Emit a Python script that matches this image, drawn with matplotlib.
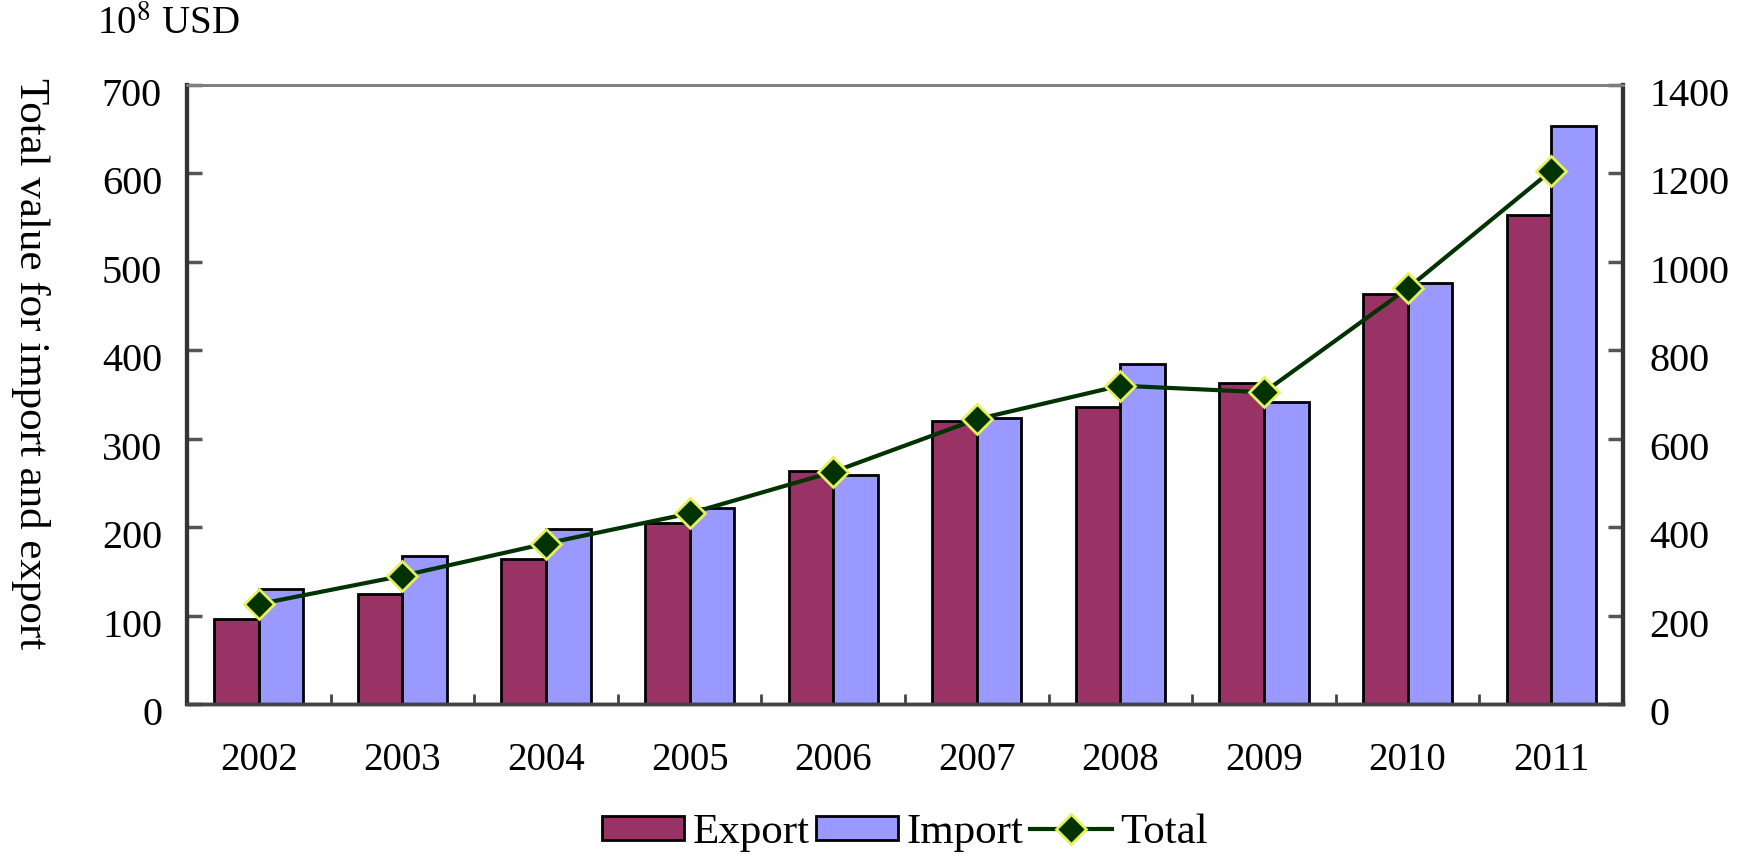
import numpy as np
import matplotlib
matplotlib.use("Agg")
import matplotlib.pyplot as plt
import matplotlib.transforms as mtransforms

plt.rcParams['font.family'] = ['Liberation Serif', 'DejaVu Serif']
plt.rcParams['mathtext.fontset'] = 'stix'

# data (10^8 USD)
years = ["2002", "2003", "2004", "2005", "2006", "2007", "2008", "2009", "2010", "2011"]
export = [96, 124, 164, 205, 264, 320, 336, 363, 464, 553]
imports = [130, 167, 198, 222, 259, 323, 384, 341, 476, 654]
total = [226, 290, 363, 431, 525, 644, 720, 705, 940, 1206]

fig = plt.figure(figsize=(17.54, 8.59), dpi=100)
fig.patch.set_facecolor("white")
ax = fig.add_axes([187 / 1754, 1 - 704 / 859, (1623 - 187) / 1754, (704 - 85) / 859])
ax2 = ax.twinx()

x = np.arange(len(years))
w = 0.31
b1 = ax.bar(x - w / 2, export, w, color="#993366", edgecolor="black", linewidth=2, label="Export")
b2 = ax.bar(x + w / 2, imports, w, color="#9999FF", edgecolor="black", linewidth=2, label="Import")
l1, = ax2.plot(x, total, color="#003300", linewidth=3, marker="D", markersize=15,
               markerfacecolor="#003300", markeredgecolor="#E6F05A", markeredgewidth=2,
               label="Total")

ax.set_xlim(-0.5, len(years) - 0.5)
ax.set_ylim(0, 700)
ax2.set_ylim(0, 1400)
ax.set_yticks(np.arange(0, 701, 100))
ax2.set_yticks(np.arange(0, 1401, 200))

ax.set_xticks(x)
ax.set_xticklabels(years)
ax.set_xticks(np.arange(0.5, len(years) - 1, 1), minor=True)
ax.tick_params(axis="x", which="major", length=0, pad=27, labelsize=28)
ax.tick_params(axis="x", which="minor", direction="in", length=7, width=2, color="#444444")
ax.tick_params(axis="y", direction="in", length=11, width=2.5, color="#555555", pad=18, labelsize=29)
ax2.tick_params(axis="y", direction="in", length=11, width=2.5, color="#555555", pad=19, labelsize=29)

# labels sit slightly below their ticks in the original
off = mtransforms.ScaledTranslation(0, -0.07, fig.dpi_scale_trans)
for lab in ax.get_yticklabels() + ax2.get_yticklabels():
    lab.set_transform(lab.get_transform() + off)

for a in (ax, ax2):
    a.spines["left"].set_color("#333333")
    a.spines["left"].set_linewidth(3)
    a.spines["right"].set_color("#333333")
    a.spines["right"].set_linewidth(3)
    a.spines["bottom"].set_color("#444444")
    a.spines["bottom"].set_linewidth(2.5)
    a.spines["top"].set_color("#808080")
    a.spines["top"].set_linewidth(2)

fig.text(30 / 1754, 1 - 364 / 859, "Total value for import and export", rotation=270,
         ha="center", va="center", fontsize=31)
fig.text(97 / 1754, 1 - 24 / 859, r"10$^{8}$ USD", ha="left", va="center", fontsize=28)

fig.legend([b1, b2, l1], ["Export", "Import", "Total"], loc="center",
           bbox_to_anchor=(905 / 1754, 1 - 833 / 859), ncol=3, frameon=False,
           fontsize=31, handlelength=1.9, handleheight=0.5, handletextpad=0.2,
           columnspacing=0.15, borderaxespad=0)

fig.savefig("out.png", dpi=100, facecolor="white")
